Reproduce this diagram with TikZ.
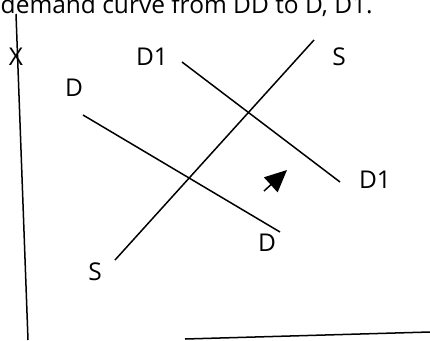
\documentclass[tikz,border=0pt]{standalone}
\usepackage{fontspec}
\setmainfont{Open Sans}
\usetikzlibrary{arrows.meta}
\begin{document}
\begin{tikzpicture}[x=1pt, y=-1pt, font=\fontsize{24.5}{28}\selectfont, line join=round, line width=1.5pt]
				\useasboundingbox (0,0) rectangle (430,340);
				\node[anchor=base west, inner sep=0pt] (title) at (0,13) {demand curve from DD to D, D1.};
				% axes
				\draw (16,14) -- (28,340);
				\draw (185,339) -- (430,332);
				\node (xlab) at (16,57) {X};
				% supply
				\draw (115,260) -- (314,40);
				\node (s1) at (339,57) {S};
				\node (s2) at (95,272) {S};
				% demand
				\draw (83,115) -- (280,232);
				\node (d1) at (74,88) {D};
				\node (d2) at (267,243) {D};
				\draw (182,62) -- (340,182);
				\node (da) at (152,57) {D1};
				\node (db) at (375,180) {D1};
				% shift
				\draw[-{Triangle[length=22pt, width=20pt]}] (264,191) -- (287,170);
			\end{tikzpicture}
\end{document}
